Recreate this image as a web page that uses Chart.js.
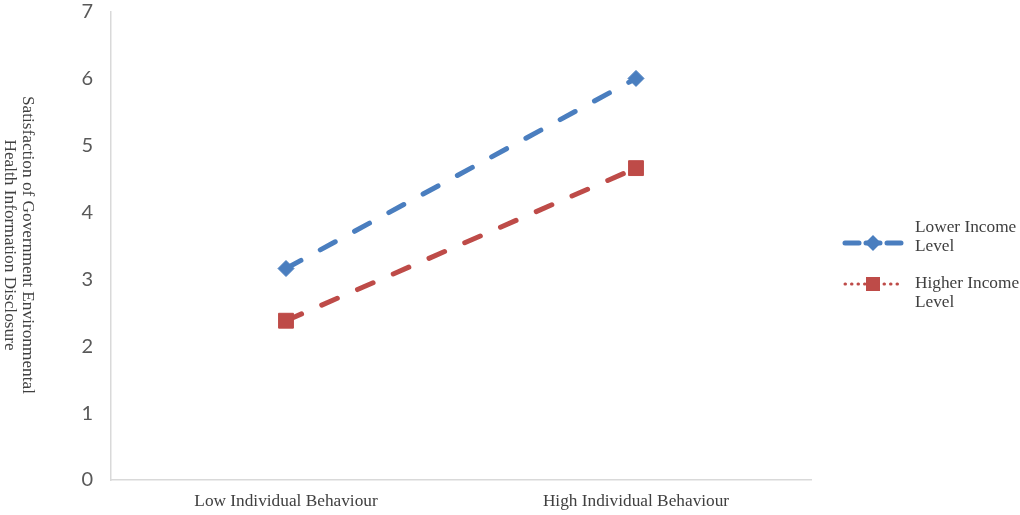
<!DOCTYPE html>
<html>
<head>
<meta charset="utf-8">
<script src="https://cdn.jsdelivr.net/npm/chart.js@4.4.1/dist/chart.umd.min.js"></script>
<style>
html,body{margin:0;padding:0;background:#fff;}
#wrap{position:relative;width:1020px;height:515px;}
</style>
</head>
<body>
<div id="wrap"><canvas id="c" width="1020" height="515"></canvas></div>
<script>
const categories = ["Low Individual Behaviour", "High Individual Behaviour"];
const lowerIncome = [3.16, 6.0];
const higherIncome = [2.38, 4.66];
const seriesNames = [["Lower Income", "Level"], ["Higher Income", "Level"]];
const yTitle = ["Satisfaction of Government Environmental", "Health Information Disclosure"];
const yTicks = [0, 1, 2, 3, 4, 5, 6, 7];

const BLUE = "#4A7EBF";
const RED = "#BE4B48";
const SERIF = "'Liberation Serif', 'DejaVu Serif', serif";
const TEXT_SIZE = 17.3;

const extras = {
  id: "extras",
  afterDraw(chart) {
    const ctx = chart.ctx;
    const area = chart.chartArea;
    ctx.save();
    // y-axis title, rotated clockwise
    ctx.fillStyle = "#404040";
    ctx.font = TEXT_SIZE + "px " + SERIF;
    ctx.textAlign = "center";
    ctx.textBaseline = "middle";
    ctx.translate(19, 245);
    ctx.rotate(Math.PI / 2);
    ctx.fillText(yTitle[0], 0, -9);
    ctx.fillText(yTitle[1], 0, 9);
    ctx.restore();

    // legend
    ctx.save();
    const items = [
      {color: BLUE, dash: [14, 7], width: 5, style: "diamond", lineY: 243, textY: [227, 246]},
      {color: RED, dash: [0.5, 6], width: 3, style: "square", lineY: 284, textY: [283, 302]}
    ];
    items.forEach((it, i) => {
      ctx.save();
      ctx.strokeStyle = it.color;
      ctx.lineWidth = it.width;
      ctx.lineCap = "round";
      ctx.setLineDash(it.dash);
      ctx.beginPath();
      ctx.moveTo(845, it.lineY);
      ctx.lineTo(903, it.lineY);
      ctx.stroke();
      ctx.restore();
      ctx.fillStyle = it.color;
      ctx.beginPath();
      if (it.style === "diamond") {
        ctx.moveTo(873, it.lineY - 8); ctx.lineTo(881, it.lineY); ctx.lineTo(873, it.lineY + 8); ctx.lineTo(865, it.lineY);
      } else {
        ctx.rect(866, it.lineY - 7, 14, 14);
      }
      ctx.closePath();
      ctx.fill();
      ctx.fillStyle = "#404040";
      ctx.font = TEXT_SIZE + "px " + SERIF;
      ctx.textAlign = "left";
      ctx.textBaseline = "middle";
      ctx.fillText(seriesNames[i][0], 915, it.textY[0]);
      ctx.fillText(seriesNames[i][1], 915, it.textY[1]);
    });
    ctx.restore();
  }
};

new Chart(document.getElementById("c"), {
  type: "line",
  data: {
    labels: categories,
    datasets: [
      {
        label: seriesNames[0].join(" "),
        data: lowerIncome,
        borderColor: BLUE,
        backgroundColor: BLUE,
        borderWidth: 5,
        borderDash: [17, 22],
        borderCapStyle: "round",
        pointStyle: "rectRot",
        pointRadius: 8,
        pointBorderWidth: 1,
        pointBackgroundColor: BLUE,
        pointBorderColor: BLUE,
        tension: 0
      },
      {
        label: seriesNames[1].join(" "),
        data: higherIncome,
        borderColor: RED,
        backgroundColor: RED,
        borderWidth: 5,
        borderDash: [17, 22],
        borderCapStyle: "round",
        pointStyle: "rect",
        pointRadius: 10.5,
        pointBorderWidth: 1,
        pointBackgroundColor: RED,
        pointBorderColor: RED,
        tension: 0
      }
    ]
  },
  options: {
    responsive: false,
    animation: false,
    devicePixelRatio: 1,
    layout: {padding: {left: 0, right: 209, top: 10.5, bottom: 0}},
    plugins: {legend: {display: false}, tooltip: {enabled: false}},
    scales: {
      x: {
        offset: true,
        grid: {display: false, drawTicks: false},
        border: {display: true, color: "#D9D9D9", width: 1.5},
        ticks: {color: "#404040", font: {family: SERIF, size: TEXT_SIZE}, padding: 11, maxRotation: 0},
        afterFit(s) { s.height = 35; s.paddingLeft = 0; s.paddingRight = 0; }
      },
      y: {
        min: 0,
        max: 7,
        grid: {display: false, drawTicks: false},
        border: {display: true, color: "#D9D9D9", width: 1.5},
        ticks: {stepSize: 1, color: "#595959", font: {family: "Lato, 'Open Sans', sans-serif", size: 20}, padding: 18,
          callback: (v) => yTicks.includes(v) ? String(v) : ""},
        afterFit(s) { s.width = 111; s.paddingTop = 0; s.paddingBottom = 0; }
      }
    }
  },
  plugins: [extras]
});
</script>
</body>
</html>
